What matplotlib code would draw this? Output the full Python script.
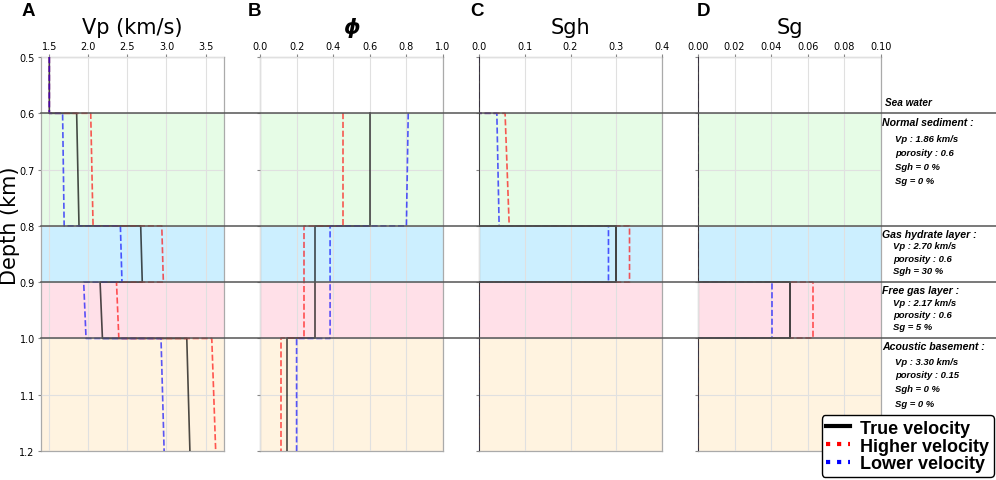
import matplotlib
matplotlib.use("Agg")
import matplotlib.pyplot as plt
import matplotlib.transforms as mtransforms
from matplotlib.lines import Line2D

# layer boundaries (km)
depth_bounds = [0.5, 0.6, 0.8, 0.9, 1.0, 1.2]
layer_colors = ['white', '#e6fce6', '#ccefff', '#ffe0e8', '#fff3e0']

# Vp (km/s) at top and bottom of each layer
vp_true_top = [1.5, 1.85, 2.67, 2.15, 3.26]
vp_true_bot = [1.5, 1.88, 2.69, 2.18, 3.30]
vp_high_top = [1.5, 2.03, 2.94, 2.36, 3.58]
vp_high_bot = [1.5, 2.06, 2.96, 2.39, 3.63]
vp_low_top = [1.5, 1.67, 2.41, 1.94, 2.93]
vp_low_bot = [1.5, 1.69, 2.43, 1.97, 2.97]

# porosity (from 0.6 km down, no sea water)
phi_true = [0.6, 0.3, 0.3, 0.15]
phi_high = [0.455, 0.242, 0.242, 0.115]
phi_low_top = [0.81, 0.383, 0.383, 0.20]
phi_low_bot = [0.80, 0.383, 0.383, 0.20]

# gas hydrate saturation
sgh_true = [0, 0, 0.30, 0, 0]
sgh_high_top = [0, 0.057, 0.329, 0, 0]
sgh_high_bot = [0, 0.066, 0.329, 0, 0]
sgh_low_top = [0, 0.039, 0.283, 0, 0]
sgh_low_bot = [0, 0.044, 0.283, 0, 0]

# free gas saturation
sg_true = [0, 0, 0, 0.050, 0]
sg_high = [0, 0, 0, 0.063, 0]
sg_low = [0, 0, 0, 0.0403, 0]

titles = ['Vp (km/s)', r'$\boldsymbol{\phi}$', 'Sgh', 'Sg']
letters = ['A', 'B', 'C', 'D']
x_limits = [None, (0, 1.0), (0, 0.4), (0, 0.1)]
x_ticks = [[1.5, 2.0, 2.5, 3.0, 3.5],
           [0.0, 0.2, 0.4, 0.6, 0.8, 1.0],
           [0.0, 0.1, 0.2, 0.3, 0.4],
           [0.00, 0.02, 0.04, 0.06, 0.08, 0.10]]
x_fmt = ['{:.1f}', '{:.1f}', '{:.1f}', '{:.2f}']

# layer descriptions on the right
header_text = ['Normal sediment :', 'Gas hydrate layer :',
               'Free gas layer :', 'Acoustic basement :']
header_depth = [0.6156, 0.8145, 0.9147, 1.0138]
detail_text = [['Vp : 1.86 km/s', 'porosity : 0.6', 'Sgh = 0 %', 'Sg = 0 %'],
               ['Vp : 2.70 km/s', 'porosity : 0.6', 'Sgh = 30 %'],
               ['Vp : 2.17 km/s', 'porosity : 0.6', 'Sg = 5 %'],
               ['Vp : 3.30 km/s', 'porosity : 0.15', 'Sgh = 0 %', 'Sg = 0 %']]
detail_depth = [[0.644, 0.669, 0.694, 0.719],
                [0.835, 0.8575, 0.879],
                [0.9354, 0.958, 0.979],
                [1.0404, 1.064, 1.089, 1.115]]
detail_indent = [1.075, 1.068, 1.068, 1.075]


def profile(top, bot, bounds):
    xs, ys = [], []
    for i in range(len(top)):
        xs += [top[i], bot[i]]
        ys += [bounds[i], bounds[i + 1]]
    return xs, ys


fig = plt.figure(figsize=(9.96, 4.81), dpi=100)
W, H = 996.0, 481.0
lefts = [41, 260, 479, 698]
axes = []
for i, l in enumerate(lefts):
    ax = fig.add_axes([l / W, 29 / H, 183 / W, 394 / H])
    axes.append(ax)

series = [
    [(vp_true_top, vp_true_bot), (vp_high_top, vp_high_bot), (vp_low_top, vp_low_bot)],
    [(phi_true, phi_true), (phi_high, phi_high), (phi_low_top, phi_low_bot)],
    [(sgh_true, sgh_true), (sgh_high_top, sgh_high_bot), (sgh_low_top, sgh_low_bot)],
    [(sg_true, sg_true), (sg_high, sg_high), (sg_low, sg_low)],
]
styles = [dict(color='black', ls='-', lw=1.2, alpha=0.7),
          dict(color='red', ls='--', lw=1.2, alpha=0.65),
          dict(color='blue', ls='--', lw=1.2, alpha=0.65)]

for i, ax in enumerate(axes):
    for k in range(5):
        ax.axhspan(depth_bounds[k], depth_bounds[k + 1], color=layer_colors[k], zorder=0, lw=0)
    for j, ((top, bot), st) in enumerate(zip(series[i], styles)):
        bounds = depth_bounds if len(top) == 5 else depth_bounds[1:]
        xs, ys = profile(top, bot, bounds)
        st = dict(st)
        z = 3
        if j == 0 and i >= 2:
            # true model on top so the zero lines read black
            z = 3.5
            st.update(color='#333333', alpha=1.0, lw=1.3)
        ax.plot(xs, ys, zorder=z, **st)
    if x_limits[i] is not None:
        ax.set_xlim(*x_limits[i])
    ax.set_ylim(1.2, 0.5)
    ax.set_xticks(x_ticks[i])
    ax.set_xticklabels([x_fmt[i].format(v) for v in x_ticks[i]])
    ax.set_yticks([0.5, 0.6, 0.7, 0.8, 0.9, 1.0, 1.1, 1.2])
    if i > 0:
        ax.set_yticklabels([])
    ax.xaxis.tick_top()
    ax.tick_params(labelsize=7, length=2.5, color='#888888', pad=2)
    ax.grid(True, color='#e0e0e0', lw=0.8, zorder=1)
    ax.set_axisbelow(False)
    for s in ax.spines.values():
        s.set_color('#aaaaaa')
        s.set_linewidth(0.9)
    cx = (lefts[i] + 91.5) / W
    fig.text(cx, 1 - 28 / H, titles[i], ha='center', va='center', fontsize=15)

for i, x in enumerate([28.7, 254, 477, 703]):
    fig.text(x / W, 1 - 12 / H, letters[i], ha='center', va='center', fontsize=13.5,
             fontweight='bold', family='Liberation Sans')

fig.text(10 / W, 1 - 226 / H, 'Depth (km)', rotation=90, ha='center', va='center', fontsize=15)

# layer boundaries across all panels (drawn from the last panel so they sit on top)
axd = axes[3]
for z in depth_bounds[1:5]:
    axd.axhline(z, xmin=(41 - 698) / 183, xmax=(996 - 698) / 183,
                color='#555555', lw=1.1, clip_on=False, zorder=4)

trans = mtransforms.blended_transform_factory(axd.transAxes, axd.transData)
axd.text(1.022, 0.580, 'Sea water', transform=trans, fontsize=7.2, fontweight='bold',
         style='italic', family='Liberation Sans', va='center')
for h, hd, dts, dds, ind in zip(header_text, header_depth, detail_text, detail_depth, detail_indent):
    axd.text(1.007, hd, h, transform=trans, fontsize=7.6, fontweight='bold',
             style='italic', family='Liberation Sans', va='center')
    for t, d in zip(dts, dds):
        axd.text(ind, d, t, transform=trans, fontsize=6.8, fontweight='bold',
                 style='italic', family='Liberation Sans', va='center')

handles = [Line2D([], [], color='black', lw=3, ls='-'),
           Line2D([], [], color='red', lw=3, ls=':'),
           Line2D([], [], color='blue', lw=3, ls=':')]
leg = fig.legend(handles, ['True velocity', 'Higher velocity', 'Lower velocity'],
                 loc='lower right', bbox_to_anchor=(994 / W, 3 / H), borderaxespad=0,
                 prop=dict(family='Liberation Sans', weight='bold', size=13),
                 handlelength=1.3, labelspacing=0.05, borderpad=0.25,
                 handletextpad=0.6, framealpha=1, edgecolor='black', fancybox=True)
leg.get_frame().set_linewidth(1.0)

fig.savefig('out.png', dpi=100)
